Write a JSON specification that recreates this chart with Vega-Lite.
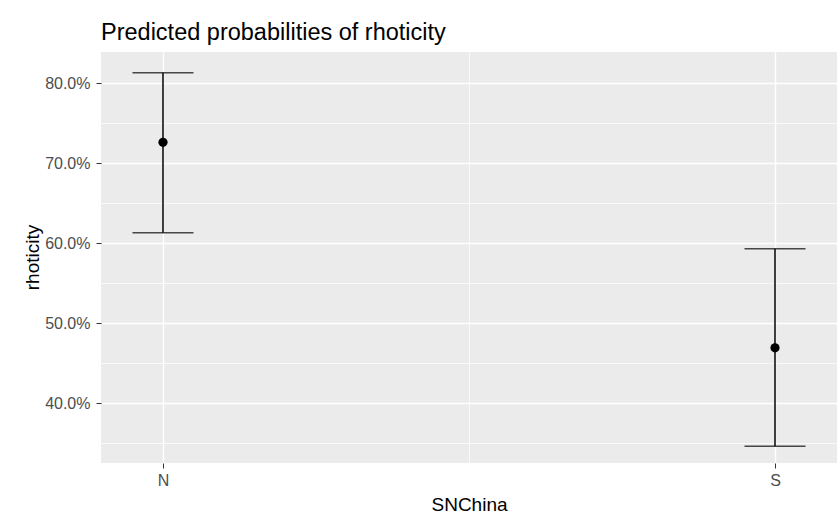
{
  "$schema": "https://vega.github.io/schema/vega-lite/v6.json",
  "autosize": {"type": "none"},
  "padding": {"left": 101, "top": 52, "right": 0, "bottom": 56},
  "width": 736,
  "height": 411,
  "background": "white",
  "title": {
    "text": "Predicted probabilities of rhoticity",
    "anchor": "start",
    "frame": "group",
    "font": "Liberation Sans",
    "fontSize": 23.5,
    "fontWeight": "normal",
    "color": "black",
    "offset": 8
  },
  "data": {
    "values": [
      {"SNChina": "N", "predicted": 0.726, "lower": 0.613, "upper": 0.813},
      {"SNChina": "S", "predicted": 0.469, "lower": 0.346, "upper": 0.593}
    ]
  },
  "encoding": {
    "x": {
      "field": "SNChina",
      "type": "nominal",
      "scale": {"type": "point", "domain": ["N", "mid", "S"], "padding": 0.2026},
      "axis": {
        "title": "SNChina",
        "labelAngle": 0,
        "labelExpr": "datum.value == 'mid' ? '' : datum.label",
        "grid": true,
        "gridColor": "white",
        "gridWidth": {"condition": {"test": "datum.value == 'mid'", "value": 0.7}, "value": 1.4},
        "tickOpacity": {"condition": {"test": "datum.value == 'mid'", "value": 0}, "value": 1},
        "labelPadding": 4,
        "titleX": 368,
        "titleY": 47,
        "titleBaseline": "alphabetic"
      }
    }
  },
  "layer": [
    {
      "mark": {"type": "rule", "color": "black", "strokeWidth": 1.5},
      "encoding": {
        "y": {
          "field": "lower",
          "type": "quantitative",
          "scale": {"domain": [0.325, 0.839], "nice": false, "zero": false},
          "axis": {
            "title": "rhoticity",
            "values": [0.35, 0.4, 0.45, 0.5, 0.55, 0.6, 0.65, 0.7, 0.75, 0.8],
            "labelExpr": "round(datum.value*100) % 10 == 0 ? format(datum.value, '.1%') : ''",
            "grid": true,
            "gridColor": "white",
            "gridWidth": {"condition": {"test": "round(datum.value*100) % 10 == 0", "value": 1.4}, "value": 0.7},
            "tickOpacity": {"condition": {"test": "round(datum.value*100) % 10 == 0", "value": 1}, "value": 0},
            "labelPadding": 6,
            "titleX": -69,
            "titleY": 205,
            "titleAngle": -90,
            "titleBaseline": "middle"
          }
        },
        "y2": {"field": "upper"}
      }
    },
    {
      "mark": {"type": "tick", "color": "black", "thickness": 1.5, "size": 61, "orient": "horizontal"},
      "encoding": {"y": {"field": "lower", "type": "quantitative"}}
    },
    {
      "mark": {"type": "tick", "color": "black", "thickness": 1.5, "size": 61, "orient": "horizontal"},
      "encoding": {"y": {"field": "upper", "type": "quantitative"}}
    },
    {
      "mark": {"type": "point", "filled": true, "shape": "circle", "color": "black", "opacity": 1, "size": 85},
      "encoding": {"y": {"field": "predicted", "type": "quantitative"}}
    }
  ],
  "config": {
    "view": {"stroke": null, "fill": "#EBEBEB"},
    "axis": {
      "domain": false,
      "labelFont": "Liberation Sans",
      "labelFontSize": 16,
      "labelColor": "#4D4D4D",
      "tickColor": "#333333",
      "tickSize": 5,
      "tickWidth": 1,
      "titleFont": "Liberation Sans",
      "titleFontSize": 19,
      "titleFontWeight": "normal",
      "titleColor": "black"
    }
  }
}
